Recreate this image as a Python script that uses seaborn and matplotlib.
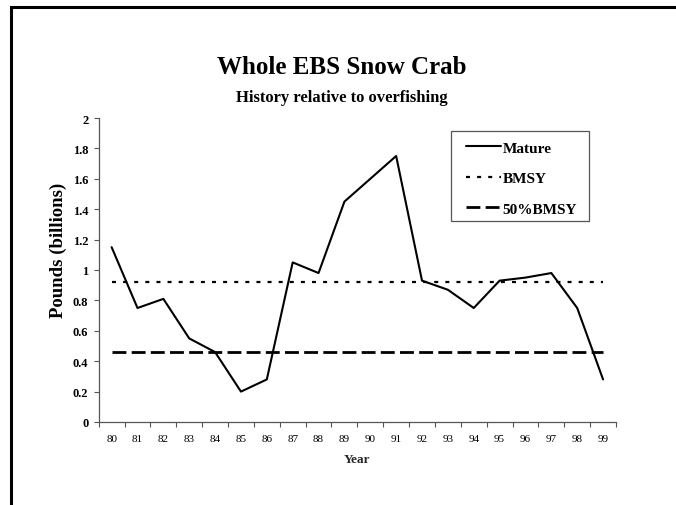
import seaborn as sns
import matplotlib
matplotlib.use("Agg")
import matplotlib.pyplot as plt
from matplotlib.lines import Line2D
from matplotlib.patches import Rectangle
import pandas as pd

years = [80, 81, 82, 83, 84, 85, 86, 87, 88, 89, 90, 91, 92, 93, 94, 95, 96, 97, 98, 99]
mature = [1.15, 0.75, 0.81, 0.55, 0.46, 0.20, 0.28, 1.05, 0.98, 1.45,
          1.60, 1.75, 0.93, 0.87, 0.75, 0.93, 0.95, 0.98, 0.75, 0.28]
bmsy = 0.92
half_bmsy = 0.46
y_ticks = [0, 0.2, 0.4, 0.6, 0.8, 1, 1.2, 1.4, 1.6, 1.8, 2]

df = pd.DataFrame({"Year": years, "Mature": mature,
                   "BMSY": [bmsy] * len(years), "50%BMSY": [half_bmsy] * len(years)})

sns.set_theme(style="ticks")
plt.rcParams['font.family'] = ['Liberation Serif', 'DejaVu Serif']
plt.rcParams['font.weight'] = 'bold'
plt.rcParams['text.color'] = 'black'
plt.rcParams['xtick.color'] = '#555555'
plt.rcParams['ytick.color'] = '#555555'
plt.rcParams['xtick.labelcolor'] = 'black'
plt.rcParams['ytick.labelcolor'] = 'black'

W, H = 676, 506
fig = plt.figure(figsize=(6.76, 5.06), dpi=100)
ax_l, ax_r, ax_t, ax_b = 98.7, 616, 119, 423
ax = fig.add_axes([ax_l / W, 1 - ax_b / H, (ax_r - ax_l) / W, (ax_b - ax_t) / H])


def to_ax(px, py):
    # pixel position in the figure -> axes fraction
    return (px - ax_l) / (ax_r - ax_l), (ax_b - py) / (ax_b - ax_t)


sns.lineplot(data=df, x="Year", y="Mature", ax=ax, color="black", lw=1.5, label="Mature")
sns.lineplot(data=df, x="Year", y="BMSY", ax=ax, color="black", lw=1.6,
             dashes=False, label="BMSY")
sns.lineplot(data=df, x="Year", y="50%BMSY", ax=ax, color="black", lw=2.0,
             dashes=False, label="50%BMSY")
ax.lines[1].set_dashes((1.8, 3.2))
ax.lines[2].set_dashes((5.0, 1.9))

ax.set_xlim(years[0] - 0.5, years[-1] + 0.5)
ax.set_ylim(0, 2)
ax.set_yticks(y_ticks)
ax.set_yticklabels([f"{t:g}" for t in y_ticks], fontsize=9, fontweight='bold')
ax.set_xticks(years)
ax.set_xticklabels([str(y) for y in years], fontsize=8, fontweight='normal')
ax.set_xticks([y - 0.5 for y in years] + [years[-1] + 0.5], minor=True)
ax.tick_params(axis='x', which='major', length=0, pad=9)
ax.tick_params(axis='x', which='minor', length=3.5, width=0.8)
ax.tick_params(axis='y', length=3.5, width=0.8, pad=4)

for s in ['top', 'right']:
    ax.spines[s].set_visible(False)
for s in ['left', 'bottom']:
    ax.spines[s].set_color('#555555')
    ax.spines[s].set_linewidth(0.9)

ax.set_xlabel("Year", fontsize=9.5, fontweight='bold', labelpad=7)
ax.set_ylabel("")
fig.text(58 / W, 1 - 250 / H, "Pounds (billions)", rotation=90, ha='center', va='center',
         fontsize=13.5, fontweight='bold')

leg = ax.legend(loc='upper left', bbox_to_anchor=to_ax(466, 142),
                borderaxespad=0, borderpad=0, frameon=False, handlelength=2.3,
                handletextpad=0.1, labelspacing=1.1,
                prop={'family': 'Liberation Serif', 'weight': 'bold', 'size': 11})
bx0, by0 = to_ax(451, 222)
bx1, by1 = to_ax(589, 132)
ax.add_patch(Rectangle((bx0, by0), bx1 - bx0, by1 - by0, transform=ax.transAxes,
                       fill=False, edgecolor='#555555', lw=0.9, clip_on=False))

fig.text(342 / W, 1 - 68 / H, "Whole EBS Snow Crab", ha='center', va='center',
         fontsize=18, fontweight='bold')
fig.text(342 / W, 1 - 98 / H, "History relative to overfishing", ha='center',
         va='center', fontsize=12, fontweight='bold')

# frame lines along top and left edges
fig.add_artist(Line2D([10.5 / W, 1], [1 - 7.5 / H, 1 - 7.5 / H],
                      color='black', lw=2.2, transform=fig.transFigure))
fig.add_artist(Line2D([10.5 / W, 10.5 / W], [0, 1 - 7.5 / H],
                      color='black', lw=2.2, transform=fig.transFigure,
                      solid_capstyle='projecting'))

fig.savefig("out.png", dpi=100)
